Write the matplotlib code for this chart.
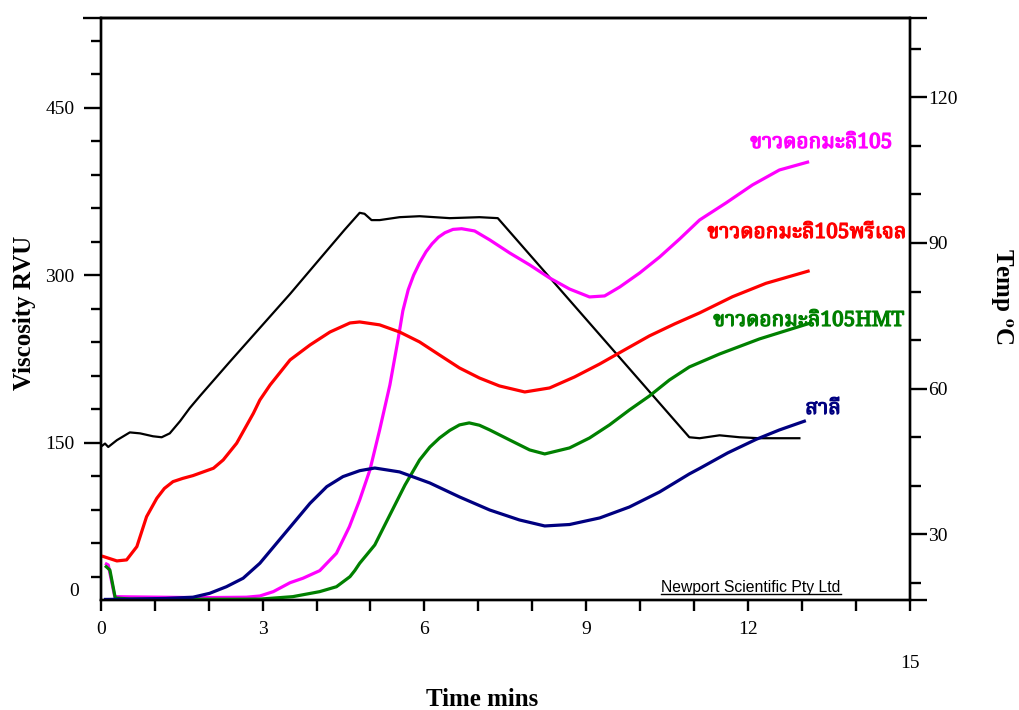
import matplotlib
matplotlib.use('Agg')
import matplotlib.pyplot as plt
import matplotlib.patheffects as pe
from matplotlib import font_manager
from matplotlib.ft2font import FT2Font
from matplotlib.ticker import FixedLocator, MultipleLocator

plt.rcParams['font.family'] = 'Liberation Serif'
plt.rcParams['mathtext.fontset'] = 'stix'


def thai_font():
    # pick an installed family that has Thai glyphs
    found = {}
    for f in font_manager.fontManager.ttflist:
        try:
            if FT2Font(f.fname).get_char_index(0x0E02):
                found.setdefault(f.name, f.fname)
        except Exception:
            pass
    for name in ['Noto Serif Thai', 'Norasi', 'Kinnari', 'TH Sarabun New',
                 'Noto Sans Thai', 'Loma', 'Garuda', 'Tlwg Typo']:
        if name in found:
            return name
    return sorted(found)[0] if found else 'DejaVu Sans'


THAI = thai_font()

# RVA pasting curves, time in minutes, viscosity in RVU
t_jasmine = [0.08, 0.14, 0.26, 0.54, 1.10, 1.84, 2.70, 2.95, 3.20, 3.51, 3.75, 4.06,
             4.37, 4.61, 4.80, 4.99, 5.17, 5.36, 5.51, 5.60, 5.70, 5.80, 5.91, 6.03,
             6.14, 6.26, 6.38, 6.53, 6.69, 6.93, 7.21, 7.58, 7.95, 8.32, 8.69, 9.06,
             9.34, 9.62, 9.99, 10.36, 10.73, 11.10, 11.59, 12.08, 12.58, 13.13]
v_jasmine = [42.0, 40.5, 12.1, 11.9, 11.6, 11.2, 11.6, 12.7, 16.6, 24.6, 28.6, 35.4,
             51.0, 74.8, 98.7, 125.6, 161.4, 201.7, 242.0, 268.0, 287.0, 300.0, 311.0, 321.0,
             328.0, 334.0, 338.0, 341.0, 341.6, 339.6, 331.6, 319.9, 309.2, 297.5, 287.6, 280.5,
             281.4, 289.4, 302.0, 316.3, 332.4, 349.4, 364.7, 380.8, 394.2, 401.6]

t_pregel = [0.02, 0.30, 0.48, 0.67, 0.85, 1.04, 1.18, 1.34, 1.52, 1.71, 2.09, 2.27,
            2.52, 2.83, 2.95, 3.14, 3.51, 3.88, 4.25, 4.62, 4.80, 5.17, 5.54, 5.91,
            6.28, 6.65, 7.02, 7.39, 7.86, 8.32, 8.78, 9.25, 9.71, 10.17, 10.64, 11.10,
            11.71, 12.33, 13.14]
v_pregel = [48.5, 44.1, 45.0, 56.9, 83.7, 100.2, 109.0, 115.1, 118.0, 120.5, 127.1, 134.5,
            149.5, 176.3, 188.2, 201.7, 224.1, 237.5, 249.1, 257.2, 258.1, 255.5, 249.1, 240.2,
            228.5, 216.9, 207.9, 200.8, 195.4, 199.0, 208.8, 220.5, 233.1, 245.6, 256.4, 266.2,
            280.7, 292.7, 304.0]

t_hmt = [0.08, 0.17, 0.27, 0.54, 1.50, 2.50, 2.95, 3.56, 4.06, 4.37, 4.62, 4.71,
         4.80, 4.92, 5.08, 5.36, 5.64, 5.91, 6.10, 6.28, 6.47, 6.65, 6.83, 7.02,
         7.21, 7.58, 7.95, 8.23, 8.69, 9.06, 9.43, 9.80, 10.17, 10.54, 10.91, 11.47,
         12.21, 13.14]
v_hmt = [39.9, 36.0, 10.9, 10.0, 9.8, 9.8, 9.9, 12.1, 16.6, 21.0, 30.0, 35.5,
         42.0, 49.0, 58.4, 85.3, 112.1, 134.5, 146.0, 154.2, 161.0, 165.9, 167.7, 165.6,
         161.4, 152.4, 143.5, 139.9, 145.3, 154.2, 165.9, 179.3, 191.8, 206.1, 217.8, 229.4,
         242.9, 256.9]

t_sali = [0.06, 0.50, 1.20, 1.71, 2.02, 2.33, 2.64, 2.95, 3.26, 3.57, 3.88, 4.19,
          4.49, 4.80, 5.08, 5.54, 6.10, 6.65, 7.21, 7.76, 8.23, 8.69, 9.25, 9.80,
          10.36, 10.91, 11.10, 11.62, 12.15, 12.58, 13.07]
v_sali = [9.6, 9.8, 10.5, 11.6, 15.1, 21.0, 28.6, 42.0, 59.9, 77.8, 95.7, 110.6,
          119.6, 124.9, 127.3, 123.8, 113.9, 101.4, 89.7, 80.8, 75.4, 76.7, 82.6, 92.4,
          105.9, 122.0, 126.9, 140.8, 153.0, 161.4, 169.7]

# temperature profile, deg C
t_temp = [0.02, 0.08, 0.14, 0.30, 0.54, 0.73, 0.97, 1.13, 1.28, 1.47, 1.65, 1.84,
          2.39, 2.95, 3.51, 4.06, 4.52, 4.80, 4.89, 5.02, 5.17, 5.54, 5.91, 6.47,
          7.02, 7.36, 10.91, 11.10, 11.47, 11.84, 12.21, 12.95]
temp = [48.2, 48.7, 48.0, 49.4, 51.0, 50.8, 50.2, 50.0, 50.8, 53.3, 56.0, 58.5,
        65.5, 72.5, 79.5, 86.7, 92.7, 96.2, 96.0, 94.7, 94.7, 95.3, 95.5, 95.1,
        95.3, 95.1, 50.0, 49.8, 50.4, 50.0, 49.8, 49.8]

names = ['ขาวดอกมะลิ105', 'ขาวดอกมะลิ105พรีเจล', 'ขาวดอกมะลิ105HMT', 'สาลี']
colors = ['#ff00ff', '#ff0000', '#008000', '#000080']

W, H = 1019, 710
fig = plt.figure(figsize=(W / 100, H / 100), dpi=100)
ax = fig.add_axes([100.7 / W, 110 / H, 809.3 / W, 582 / H])
ax2 = ax.twinx()
ax.set_zorder(ax2.get_zorder() + 1)
ax.patch.set_visible(False)

ax2.plot(t_temp, temp, color='black', lw=1.6)
for tt, vv, c in zip([t_jasmine, t_pregel, t_hmt, t_sali],
                     [v_jasmine, v_pregel, v_hmt, v_sali], colors):
    ax.plot(tt, vv, color=c, lw=2.3, solid_capstyle='butt')

ax.set_xlim(0, 15)
ax.set_ylim(9.1, 530.3)
ax2.set_ylim(16.5, 136.3)

for a in (ax, ax2):
    for s in a.spines.values():
        s.set_linewidth(1.7)

ax.xaxis.set_major_locator(FixedLocator([0, 3, 6, 9, 12]))
ax.xaxis.set_minor_locator(MultipleLocator(1))
ax.yaxis.set_major_locator(FixedLocator([150, 300, 450]))
ax.yaxis.set_minor_locator(MultipleLocator(30))
ax2.yaxis.set_major_locator(FixedLocator([30, 60, 90, 120]))
ax2.yaxis.set_minor_locator(MultipleLocator(10))

ax.tick_params(axis='x', which='both', direction='out', length=8, width=1.7,
               labelsize=14, pad=7)
ax.tick_params(axis='y', which='major', direction='out', length=12.5, width=1.7,
               labelsize=14, pad=6.5)
ax.tick_params(axis='y', which='minor', direction='out', length=7.2, width=1.7)
ax2.tick_params(axis='y', which='major', direction='out', length=12, width=1.7,
                labelsize=14, pad=1)
ax2.tick_params(axis='y', which='minor', direction='out', length=7.7, width=1.7)

# top rule and right-hand corner ticks run past the frame
ext_l = 17.4 / 809.3
ext_r = 16.7 / 809.3
ax.plot([-ext_l, 1 + ext_r], [1, 1], transform=ax.transAxes, color='black',
        lw=1.7, clip_on=False, solid_capstyle='butt')
ax.plot([1, 1 + ext_r], [0, 0], transform=ax.transAxes, color='black',
        lw=1.7, clip_on=False, solid_capstyle='butt')

# odd placements of the "0" and "15" labels
ax.text(-21.7 / 809.3, 16.3, '0', transform=ax.get_yaxis_transform(),
        ha='right', va='center', fontsize=14)
ax.text(15, -63 / 582, '15', transform=ax.get_xaxis_transform(),
        ha='center', va='center', fontsize=14)

fig.text(25 / W, 1 - 313 / H, 'Viscosity RVU', rotation=90, ha='center',
         va='center', fontsize=18, fontweight='bold')
fig.text(1001 / W, 1 - 297 / H, r'Temp $^{\mathbf{o}}$C', rotation=270,
         ha='center', va='center', fontsize=18, fontweight='bold')
fig.text(482 / W, 1 - 700 / H, 'Time mins', ha='center', va='center',
         fontsize=18, fontweight='bold')

# series names next to curve ends, thickened with a stroke
label_pos = [(14.67, 419.3, 'right'), (14.93, 338.7, 'right'),
             (14.89, 259.9, 'right'), (13.06, 181.1, 'left')]
for name, c, (x, y, ha) in zip(names, colors, label_pos):
    ax.text(x, y, name, color=c, ha=ha, va='center', fontsize=15,
            fontweight='bold', family=[THAI, 'Liberation Serif'],
            path_effects=[pe.withStroke(linewidth=0.9, foreground=c)])

nx, ny = 0.8035, 8.3 / 582
note = ax.text(nx, ny, 'Newport Scientific Pty Ltd', transform=ax.transAxes,
               ha='center', va='baseline', fontsize=11.3, family='Liberation Sans')
fig.canvas.draw()
bb = note.get_window_extent(fig.canvas.get_renderer())
inv = ax.transAxes.inverted()
x0 = inv.transform((bb.x0, 0))[0]
x1 = inv.transform((bb.x1, 0))[0]
ax.plot([x0, x1], [ny - 1.8 / 582] * 2, transform=ax.transAxes, color='black',
        lw=1.0, clip_on=False)

fig.savefig('out.png', dpi=100)
